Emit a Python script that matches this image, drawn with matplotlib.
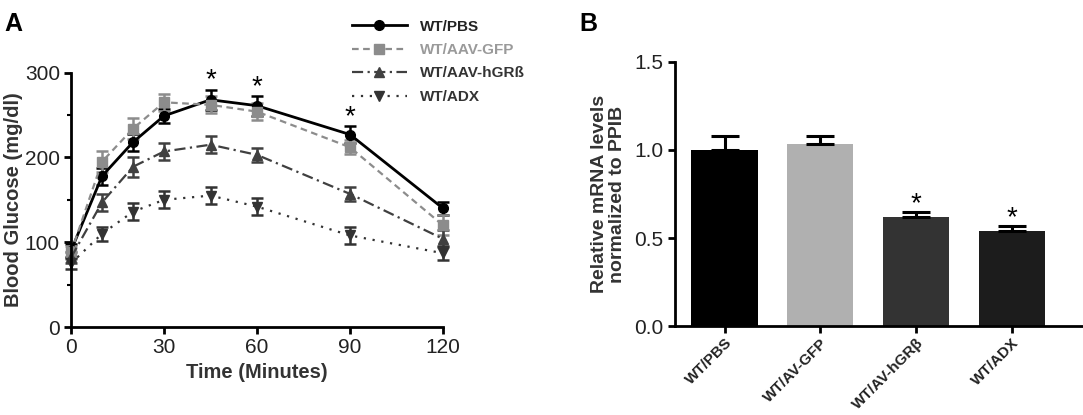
import matplotlib
matplotlib.use("Agg")
import matplotlib.pyplot as plt
from matplotlib.lines import Line2D
from matplotlib.ticker import MultipleLocator

plt.rcParams['font.family'] = ['Liberation Sans', 'DejaVu Sans']

# panel A: glucose tolerance
time_min = [0, 10, 20, 30, 45, 60, 90, 120]
pbs = [90, 178, 218, 249, 268, 261, 227, 140]
pbs_err = [8, 10, 10, 8, 12, 12, 10, 8]
gfp = [88, 195, 234, 265, 262, 254, 212, 120]
gfp_err = [8, 12, 12, 10, 10, 10, 8, 12]
hgrb = [82, 147, 189, 207, 215, 203, 157, 104]
hgrb_err = [6, 10, 12, 10, 10, 8, 8, 10]
adx = [75, 110, 136, 150, 155, 142, 108, 87]
adx_err = [6, 8, 10, 10, 10, 10, 10, 8]
star_times = [45, 60, 90]
star_y = [291, 283, 248]

# panel B: mRNA levels
groups = ['WT/PBS', 'WT/AV-GFP', 'WT/AV-hGR\u03b2', 'WT/ADX']
mrna = [1.0, 1.035, 0.62, 0.54]
mrna_err = [0.08, 0.045, 0.03, 0.03]
bar_colors = ['#000000', '#b0b0b0', '#333333', '#1c1c1c']
bar_star = [False, False, True, True]

fig = plt.figure(figsize=(10.83, 4.15), dpi=100)

# ---- panel A
axA = fig.add_axes([0.0656, 0.212, 0.3434, 0.613])
series = [
    ('WT/PBS', pbs, pbs_err, '#000000', '-', 'o', '#222222'),
    ('WT/AAV-GFP', gfp, gfp_err, '#8c8c8c', (0, (3, 2)), 's', '#9a9a9a'),
    ('WT/AAV-hGR\u00df', hgrb, hgrb_err, '#404040', (0, (5, 2, 1, 2)), '^', '#333333'),
    ('WT/ADX', adx, adx_err, '#333333', (0, (1, 3)), 'v', '#333333'),
]
handles = []
for name, vals, err, col, ls, mk, _ in series:
    lw = 2.0 if ls == '-' else 1.6
    axA.errorbar(time_min, vals, yerr=err, color=col, ls=ls, lw=lw, marker=mk, ms=7,
                 capsize=4, elinewidth=1.8, capthick=1.8, clip_on=False)
    handles.append(Line2D([], [], color=col, ls=ls, lw=lw, marker=mk, ms=7))
for t, y in zip(star_times, star_y):
    axA.text(t, y, '*', ha='center', va='center', fontsize=20)

axA.set_xlim(0, 120)
axA.set_ylim(0, 300)
axA.set_xticks([0, 30, 60, 90, 120])
axA.set_yticks([0, 100, 200, 300])
axA.yaxis.set_minor_locator(MultipleLocator(50))
axA.spines['top'].set_visible(False)
axA.spines['right'].set_visible(False)
for s in ('left', 'bottom'):
    axA.spines[s].set_linewidth(2)
axA.tick_params(which='major', width=2, length=5, labelsize=15, pad=3, labelcolor='#222222')
axA.tick_params(which='minor', width=1.5, length=3)
axA.set_xlabel('Time (Minutes)', fontsize=14.5, fontweight='bold', color='#333333', labelpad=4)
axA.set_ylabel('Blood Glucose (mg/dl)', fontsize=14.5, fontweight='bold', color='#333333',
               labelpad=1)

leg = fig.legend(handles=handles, labels=[s[0] for s in series], loc='upper left',
                 bbox_to_anchor=(0.325, 0.953), frameon=False, handlelength=3.6,
                 handletextpad=0.85, labelspacing=0.62, borderpad=0, borderaxespad=0,
                 prop={'weight': 'bold', 'size': 11})
for txt, s in zip(leg.get_texts(), series):
    txt.set_color(s[6])

fig.text(0.004, 0.925, 'A', fontsize=18, fontweight='bold')

# ---- panel B
axB = fig.add_axes([0.623, 0.214, 0.377, 0.637])
pos = list(range(len(groups)))
axB.bar(pos, mrna, width=0.69, color=bar_colors)
axB.errorbar(pos, mrna, yerr=[[0] * len(mrna), mrna_err], fmt='none', ecolor='#000000',
             elinewidth=2.2, capsize=10, capthick=2.2)
for p, v, e, s in zip(pos, mrna, mrna_err, bar_star):
    if s:
        axB.text(p, v + e + 0.045, '*', ha='center', va='center', fontsize=20)
axB.set_xlim(-0.52, 3.74)
axB.set_ylim(0, 1.5)
axB.set_yticks([0, 0.5, 1.0, 1.5])
axB.set_yticklabels(['0.0', '0.5', '1.0', '1.5'])
axB.set_xticks(pos)
axB.set_xticklabels(groups, rotation=45, ha='right', rotation_mode='anchor',
                    fontsize=11, fontweight='bold')
axB.spines['top'].set_visible(False)
axB.spines['right'].set_visible(False)
for s in ('left', 'bottom'):
    axB.spines[s].set_linewidth(2)
axB.tick_params(width=2, length=5, labelcolor='#222222')
axB.tick_params(axis='x', pad=2)
axB.tick_params(axis='y', labelsize=15, pad=3)
axB.set_ylabel('Relative mRNA levels\nnormalized to PPIB', fontsize=14, fontweight='bold',
               color='#333333', linespacing=1.05, labelpad=6)

fig.text(0.535, 0.925, 'B', fontsize=18, fontweight='bold')

fig.savefig('out.png', dpi=100)
